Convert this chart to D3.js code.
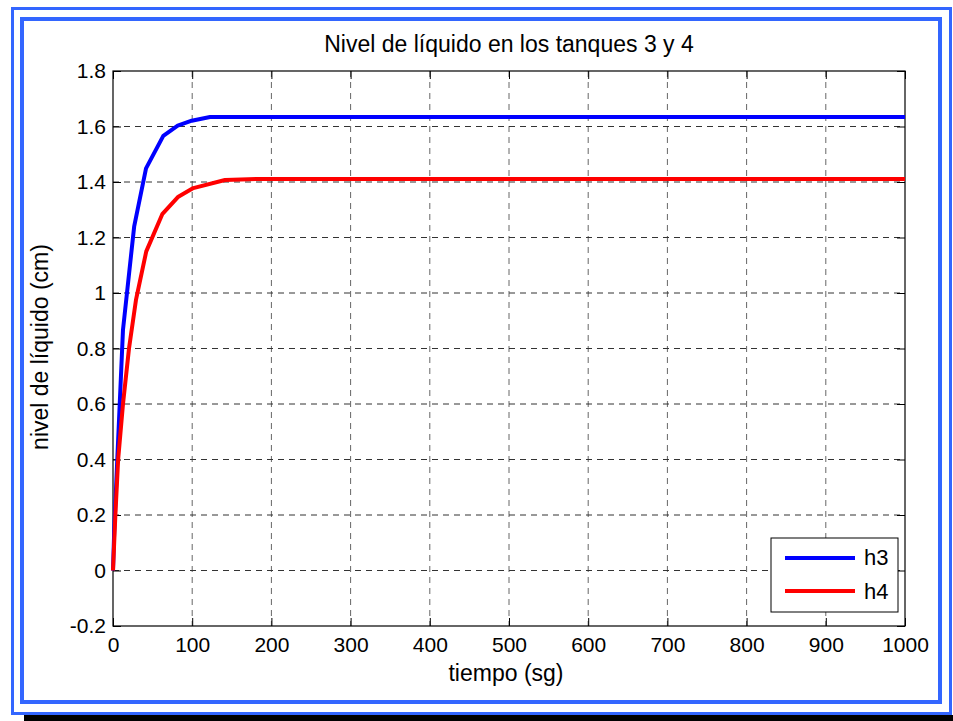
<!DOCTYPE html>
<html>
<head>
<meta charset="utf-8">
<script src="https://cdn.jsdelivr.net/npm/d3@7"></script>
<style>
  body { margin: 0; background: #fff; }
  text { font-family: "Liberation Sans", Arial, sans-serif; fill: #000; }
</style>
</head>
<body>
<div class="chart-area"></div>
<script>
// data
var xTicks = [0, 100, 200, 300, 400, 500, 600, 700, 800, 900, 1000];
var yTicks = [-0.2, 0, 0.2, 0.4, 0.6, 0.8, 1, 1.2, 1.4, 1.6, 1.8];
var yTickLabels = ["-0.2", "0", "0.2", "0.4", "0.6", "0.8", "1", "1.2", "1.4", "1.6", "1.8"];

var h3Time  = [0, 1.5, 5.4, 12.6, 26.7, 41.7, 63.5, 81.7, 99.4, 122.5, 1000];
var h3Level = [0, 0.14, 0.40, 0.867, 1.239, 1.449, 1.566, 1.603, 1.621, 1.634, 1.634];

var h4Time  = [0, 3, 6.5, 12.6, 20.2, 29, 42, 62.2, 82.5, 101.4, 141.4, 181.4, 1000];
var h4Level = [0, 0.2, 0.4, 0.6, 0.8, 0.975, 1.15, 1.284, 1.347, 1.378, 1.407, 1.411, 1.411];

var seriesNames = ["h3", "h4"];

var width = 953,
    height = 721,
    plot = { left: 113, right: 905, top: 71, bottom: 626 },
    frameBlue = "#3366ff",
    colors = ["#0000ff", "#ff0000"];

var svg = d3.select(".chart-area")
            .append("svg")
            .attr("width", width)
            .attr("height", height);

svg.append("rect").attr("width", width).attr("height", height).attr("fill", "#fff");

// frames round the figure
svg.append("rect")
   .attr("x", 24).attr("y", 715).attr("width", width - 24).attr("height", 6)
   .attr("fill", "#000");
svg.append("rect")
   .attr("x", 12.5).attr("y", 8.5).attr("width", 938).attr("height", 705)
   .attr("fill", "none").attr("stroke", frameBlue).attr("stroke-width", 3);
svg.append("rect")
   .attr("x", 22).attr("y", 19).attr("width", 918).attr("height", 683)
   .attr("fill", "none").attr("stroke", frameBlue).attr("stroke-width", 4);

var x = d3.scaleLinear().domain([0, 1000]).range([plot.left, plot.right]),
    y = d3.scaleLinear().domain([-0.2, 1.8]).range([plot.bottom, plot.top]);

// grid
svg.append("g").selectAll("line")
   .data(xTicks.slice(1, -1))
   .enter().append("line")
   .attr("x1", function(d) { return x(d) }).attr("x2", function(d) { return x(d) })
   .attr("y1", plot.top).attr("y2", plot.bottom)
   .attr("stroke", "#666").attr("stroke-dasharray", "6,5");

svg.append("g").selectAll("line")
   .data(yTicks.slice(1, -1))
   .enter().append("line")
   .attr("x1", plot.left).attr("x2", plot.right)
   .attr("y1", function(d) { return y(d) }).attr("y2", function(d) { return y(d) })
   .attr("stroke", "#333").attr("stroke-dasharray", "6,5");

// axes
svg.append("g")
   .attr("transform", "translate(0," + plot.bottom + ")")
   .call(d3.axisBottom(x).tickValues(xTicks).tickSizeInner(-8).tickSizeOuter(0).tickPadding(11).tickFormat(d3.format("d")));
svg.append("g")
   .attr("transform", "translate(" + plot.left + ",0)")
   .call(d3.axisLeft(y).tickValues(yTicks).tickSizeInner(-8).tickSizeOuter(0).tickPadding(7)
         .tickFormat(function(d, i) { return yTickLabels[i] }));
svg.append("g")
   .attr("transform", "translate(0," + plot.top + ")")
   .call(d3.axisTop(x).tickValues(xTicks).tickSizeInner(-8).tickSizeOuter(0).tickFormat(""));
svg.append("g")
   .attr("transform", "translate(" + plot.right + ",0)")
   .call(d3.axisRight(y).tickValues(yTicks).tickSizeInner(-8).tickSizeOuter(0).tickFormat(""));

svg.selectAll(".domain").remove();
svg.selectAll(".tick line").attr("stroke", "#000");
svg.selectAll(".tick text").attr("font-size", 21).attr("font-family", "Liberation Sans, Arial, sans-serif");

svg.append("rect")
   .attr("x", plot.left).attr("y", plot.top)
   .attr("width", plot.right - plot.left).attr("height", plot.bottom - plot.top)
   .attr("fill", "none").attr("stroke", "#000").attr("stroke-width", 1.2);

// curves
var line = d3.line()
   .x(function(d) { return x(d[0]) })
   .y(function(d) { return y(d[1]) });

var series = [
  d3.zip(h3Time, h3Level),
  d3.zip(h4Time, h4Level)
];

svg.append("g").selectAll("path")
   .data(series)
   .enter().append("path")
   .attr("d", line)
   .attr("fill", "none")
   .attr("stroke", function(d, i) { return colors[i] })
   .attr("stroke-width", 4)
   .attr("stroke-linejoin", "round");

// legend
var legend = svg.append("g");
legend.append("rect")
   .attr("x", 771).attr("y", 538).attr("width", 127).attr("height", 74)
   .attr("fill", "#fff").attr("stroke", "#000");
legend.selectAll(".key")
   .data(seriesNames)
   .enter().append("line")
   .attr("x1", 785).attr("x2", 855)
   .attr("y1", function(d, i) { return 558 + i * 33 })
   .attr("y2", function(d, i) { return 558 + i * 33 })
   .attr("stroke", function(d, i) { return colors[i] })
   .attr("stroke-width", 4);
legend.selectAll(".name")
   .data(seriesNames)
   .enter().append("text")
   .text(function(d) { return d })
   .attr("x", 864)
   .attr("y", function(d, i) { return 565 + i * 34 })
   .attr("font-size", 22);

// titles
svg.append("text")
   .text("Nivel de líquido en los tanques 3 y 4")
   .attr("x", 509).attr("y", 52)
   .attr("text-anchor", "middle").attr("font-size", 23);
svg.append("text")
   .text("tiempo (sg)")
   .attr("x", 506).attr("y", 681)
   .attr("text-anchor", "middle").attr("font-size", 23);
svg.append("text")
   .text("nivel de líquido (cm)")
   .attr("transform", "translate(48,347) rotate(-90)")
   .attr("text-anchor", "middle").attr("font-size", 23);
</script>
</body>
</html>
